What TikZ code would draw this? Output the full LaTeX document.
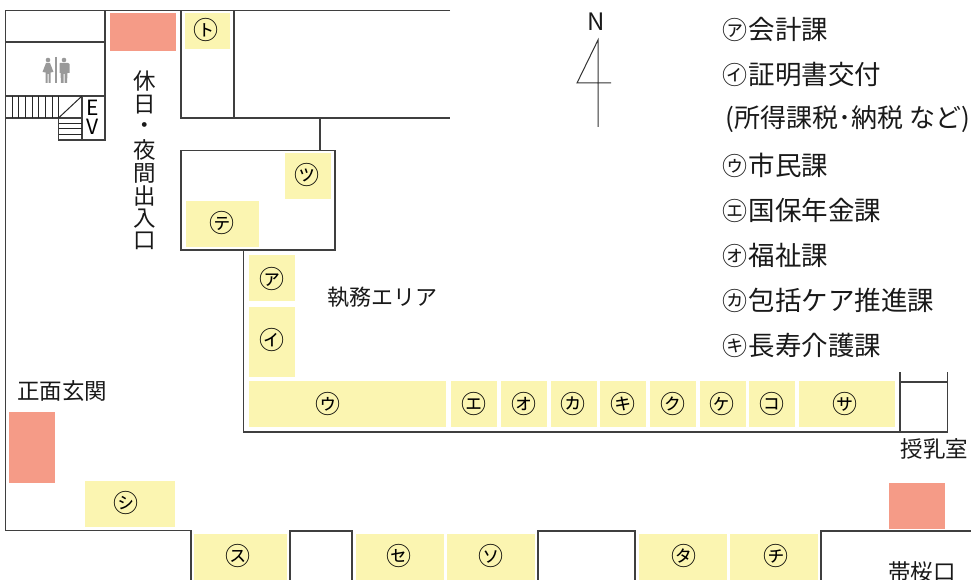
\documentclass[tikz,border=0pt]{standalone}
\usepackage{fontspec}
\setmainfont{Noto Sans CJK JP}
\definecolor{wall}{HTML}{3F3F3F}
\definecolor{desk}{HTML}{FBF5B1}
\definecolor{exitc}{HTML}{F59B87}
\definecolor{wc}{HTML}{999999}
\newcommand{\ybox}[5]{\node[deskbox,minimum width=#3-#1,minimum height=#4-#2] (#5) at ({(#1+#3)/2},{(#2+#4)/2}) {};}
\newcommand{\xbox}[5]{\node[exitbox,minimum width=#3-#1,minimum height=#4-#2] (#5) at ({(#1+#3)/2},{(#2+#4)/2}) {};}
\newcommand{\clab}[4]{\node[cellab] (#1) at (#2,#3) {#4};}
\newcommand{\legc}[1]{{\fontsize{25}{26}\selectfont #1}\hspace{1.5pt}}
\begin{document}
\begin{tikzpicture}[x=1pt,y=-1pt,
  deskbox/.style={fill=desk,draw=none,inner sep=0pt,outer sep=0pt},
  exitbox/.style={fill=exitc,draw=none,inner sep=0pt,outer sep=0pt},
  cellab/.style={font=\fontsize{25}{25}\selectfont,inner sep=0pt,text=black},
  walls/.style={draw=wall,line width=1.3pt},
  thin wall/.style={draw=black!85,line width=1pt},
  lab/.style={font=\fontsize{22.5}{24}\selectfont,inner sep=0pt,text=black!90},
  leg/.style={font=\fontsize{26.5}{27}\selectfont,inner sep=0pt,anchor=west,text=black!90}]
\useasboundingbox (0,0) rectangle (971,580);
\clip (0,0) rectangle (971,580);
% walls
\draw[walls] (450,10.5) -- (5.5,10.5) -- (5.5,530.5) -- (191,530.5) -- (191,590);
\draw[walls] (5.5,42) -- (105,42);
\draw[walls] (105,10.5) -- (105,140) -- (58.5,140) -- (58.5,118);
\draw[walls] (5.5,96) -- (105,96);
\draw[walls] (5.5,118) -- (82,118);
\draw[walls] (82,96) -- (82,140);
\draw[thin wall] (58.5,118) -- (82,96);
\foreach \xx in {12,18,25,32,38,45,52,58.5} \draw[thin wall] (\xx,96) -- (\xx,118);
\foreach \yy in {124,129,135} \draw[thin wall] (58.5,\yy) -- (82,\yy);
\draw[walls] (181,10.5) -- (181,118) -- (450,118);
\draw[walls] (234,10.5) -- (234,118);
\draw[walls] (320,118) -- (320,150.5);
\draw[walls] (181,150.5) rectangle (335,250);
\draw[walls] (243.5,250) -- (243.5,432) -- (947.5,432) -- (947.5,372);
\draw[walls] (900,372) -- (900,432);
\draw[walls] (900,382) -- (947.5,382);
\draw[walls] (290,590) -- (290,531) -- (352,531) -- (352,590);
\draw[walls] (538,590) -- (538,531) -- (635,531) -- (635,590);
\draw[walls] (821,590) -- (821,531) -- (975,531);
% exits
\xbox{110}{13}{176}{51}{exA}
\xbox{9}{412}{55}{483}{exB}
\xbox{889}{483}{945}{529}{exC}
% desks
\ybox{185}{13}{230}{49}{dTo}
\ybox{285}{153}{331}{199}{dTsu}
\ybox{186}{201}{259}{247}{dTe}
\ybox{249}{255}{295}{301}{dA}
\ybox{249}{307}{295}{377}{dI}
\ybox{249}{381}{446}{427}{dU}
\ybox{451}{381}{497}{427}{dE}
\ybox{501}{381}{547}{427}{dO}
\ybox{551}{381}{597}{427}{dKa}
\ybox{600}{381}{646}{427}{dKi}
\ybox{650}{381}{696}{427}{dKu}
\ybox{700}{381}{746}{427}{dKe}
\ybox{749}{381}{795}{427}{dKo}
\ybox{799}{381}{895}{427}{dSa}
\ybox{85}{481}{175}{527}{dShi}
\ybox{194}{534}{287}{590}{dSu}
\ybox{356}{534}{444}{590}{dSe}
\ybox{447}{534}{535}{590}{dSo}
\ybox{639}{534}{727}{590}{dTa}
\ybox{730}{534}{818}{590}{dChi}
% cell labels
\clab{lTo}{206}{30}{㋣}
\clab{lTsu}{307}{175}{㋡}
\clab{lTe}{222}{223}{㋢}
\clab{lA}{272}{279}{㋐}
\clab{lI}{272}{340}{㋑}
\clab{lU}{328}{404}{㋒}
\clab{lE}{474}{404}{㋓}
\clab{lO}{524}{404}{㋔}
\clab{lKa}{573}{404}{㋕}
\clab{lKi}{623}{404}{㋖}
\clab{lKu}{673}{404}{㋗}
\clab{lKe}{722}{404}{㋘}
\clab{lKo}{772}{404}{㋙}
\clab{lSa}{845}{404}{㋚}
\clab{lShi}{126}{503}{㋛}
\clab{lSu}{238}{556}{㋜}
\clab{lSe}{399}{556}{㋝}
\clab{lSo}{491}{556}{㋞}
\clab{lTa}{684}{556}{㋟}
\clab{lChi}{776}{556}{㋠}
% toilet icon
\fill[wc] (48,60) circle (2.3);
\fill[wc] (64,60) circle (2.3);
\fill[wc] (46,63) -- (50,63) -- (53.5,72) -- (50.5,72.5) -- (50.5,83) -- (48.5,83) -- (48.5,74) -- (47.5,74) -- (47.5,83) -- (45.5,83) -- (45.5,72.5) -- (42.5,72) -- cycle;
\fill[wc] (60,63) -- (68,63) -- (69.5,64) -- (69.5,73) -- (67.5,73) -- (67,83) -- (64.5,83) -- (64.5,74) -- (63.5,74) -- (63.5,83) -- (61,83) -- (60.5,73) -- (59.5,73) -- (59.5,64) -- cycle;
\draw[wc,line width=1.2pt] (56,57) -- (56,83);
% texts
\node[font=\fontsize{21}{21}\selectfont,inner sep=0pt] (evE) at (92.5,108) {E};
\node[font=\fontsize{21}{21}\selectfont,inner sep=0pt] (evV) at (92.5,127) {V};
\foreach \nm/\ch/\yy in {v1/休/81,v2/日/105,v3/・/128,v4/夜/150,v5/間/173,v6/出/196,v7/入/219,v8/口/241}
  \node[lab] (\nm) at (144.5,\yy) {\ch};
\node[lab,anchor=west,font=\fontsize{22}{24}\selectfont] (shitsumu) at (327.5,297) {執務エリア};
\node[lab,anchor=west] (shomen) at (17,391) {正面玄関};
\node[lab,anchor=west] (junyu) at (900.5,449) {授乳室};
\node[lab,anchor=west] (obi) at (888,572) {帯桜口};
% north
\node[font=\fontsize{24}{24}\selectfont,inner sep=0pt,text=black!90] (north) at (596,21.5) {N};
\coordinate (nTip) at (598,40);
\coordinate (nBase) at (598,127);
\coordinate (nL) at (577,83);
\coordinate (nR) at (611,83);
\draw[draw=black!80,line width=1pt] (nBase) -- (nTip) -- (nL) -- (nR);
% legend
\node[leg] (k1) at (722,29) {\legc{㋐}会計課};
\node[leg] (k2) at (722,74) {\legc{㋑}証明書交付};
\node[leg,font=\fontsize{26}{27}\selectfont] (k3) at (725.5,119) {(所得課税･納税 など)};
\node[leg] (k4) at (722,165) {\legc{㋒}市民課};
\node[leg] (k5) at (722,210) {\legc{㋓}国保年金課};
\node[leg] (k6) at (722,255) {\legc{㋔}福祉課};
\node[leg] (k7) at (722,300) {\legc{㋕}包括ケア推進課};
\node[leg] (k8) at (722,345) {\legc{㋖}長寿介護課};
\end{tikzpicture}
\end{document}
